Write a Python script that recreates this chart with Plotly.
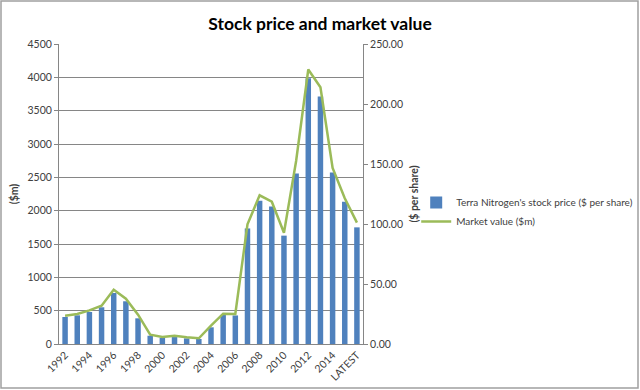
import plotly.graph_objects as go

categories = [str(y) for y in range(1992, 2016)] + ["LATEST"]
stock_price = [22.5, 23.9, 26.7, 30.6, 42.5, 35.6, 21.4, 6.9, 5.0, 5.8, 4.7, 4.2,
               13.9, 24.2, 23.8, 96.3, 119.3, 114.6, 90.3, 142.0, 221.5, 206.3,
               142.9, 118.5, 97.2]
market_value = [425, 450, 505, 575, 815, 680, 440, 140, 105, 125, 100, 85,
                275, 455, 450, 1795, 2230, 2135, 1670, 2745, 4117, 3850,
                2640, 2185, 1820]
tick_labels = categories[::2]

FONT = "Lato"
TXT = "#404040"

fig = go.Figure()
fig.add_trace(go.Bar(x=categories, y=stock_price, yaxis="y",
                     name="Terra Nitrogen's stock price ($ per share)",
                     marker=dict(color="#4F81BD", line=dict(width=0))))
fig.add_trace(go.Scatter(x=categories, y=market_value, yaxis="y2", mode="lines",
                         name="Market value ($m)",
                         line=dict(color="#9BBB59", width=2.5)))

fig.update_layout(
    width=640, height=390,
    margin=dict(l=59, r=277, t=44, b=46, autoexpand=False),
    paper_bgcolor="white", plot_bgcolor="white",
    font=dict(family=FONT, size=10.5, color=TXT),
    title=dict(text="<b>Stock price and market value</b>", x=0.5, xanchor="center",
               y=0.94, yanchor="middle", font=dict(family=FONT, size=17.5, color="black")),
    bargap=0.55,
    showlegend=True,
    legend=dict(x=1.175, xanchor="left", y=0.52, yanchor="top",
                font=dict(family=FONT, size=10, color=TXT),
                bgcolor="rgba(0,0,0,0)", itemwidth=30, tracegroupgap=0),
    xaxis=dict(type="category", tickmode="array", tickvals=tick_labels, ticktext=tick_labels,
               tickangle=-45, showgrid=False, showline=True, linecolor="#868686",
               linewidth=1, ticks="", tickfont=dict(size=10.5)),
    yaxis=dict(side="right", range=[0, 250], dtick=50, tickformat=".2f",
               showgrid=False, showline=True, linecolor="#868686", linewidth=1,
               ticks="outside", ticklen=4, tickcolor="#868686", zeroline=False,
               title=dict(text="<b>($ per share)</b>", standoff=8,
                          font=dict(size=10.5))),
    yaxis2=dict(side="left", overlaying="y", range=[0, 4500], dtick=500,
                showgrid=True, gridcolor="#868686", gridwidth=1,
                showline=True, linecolor="#868686", linewidth=1,
                ticks="outside", ticklen=4, tickcolor="#868686", zeroline=False,
                title=dict(text="<b>($m)</b>", standoff=6, font=dict(size=10.5))),
    shapes=[dict(type="rect", xref="paper", yref="paper",
                 x0=(1 - 59) / 304, x1=(638 - 59) / 304,
                 y0=(344 - 388) / 300, y1=(344 - 1) / 300,
                 line=dict(color="#A0A0A0", width=1.5), fillcolor="rgba(0,0,0,0)",
                 layer="below")],
)

fig.write_html("out.html", config={"displayModeBar": False},
               post_script="document.body.style.margin='0';document.body.style.overflow='hidden';")
